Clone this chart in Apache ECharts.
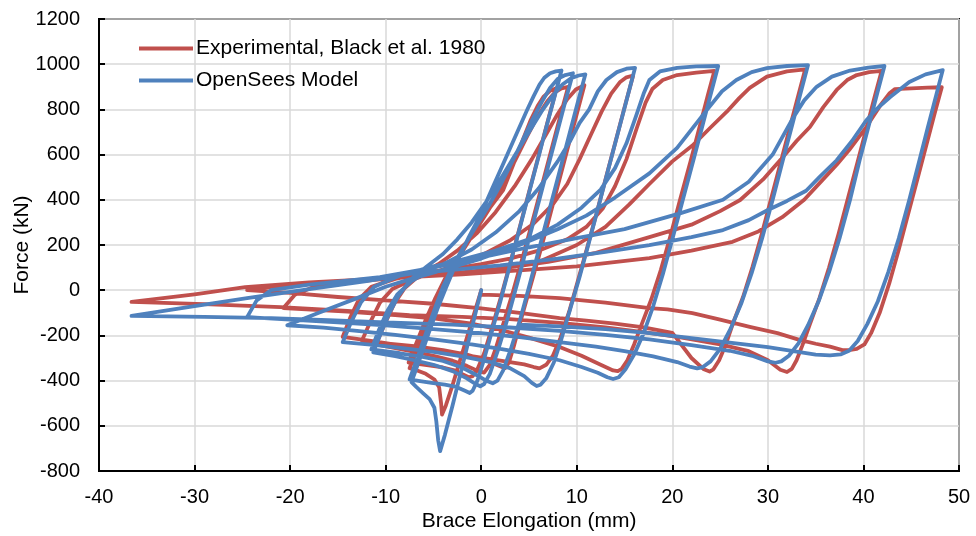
<!DOCTYPE html>
<html>
<head>
<meta charset="utf-8">
<script src="https://cdn.jsdelivr.net/npm/echarts@6/dist/echarts.min.js"></script>
<style>
  html, body { margin: 0; padding: 0; background: #fff; }
  #chart { width: 976px; height: 536px; }
</style>
</head>
<body>
<div id="chart"></div>
<script>
// Brace hysteresis: force (kN) vs. elongation (mm), each path is one half-cycle [x, y].

const seriesNames = ['Experimental, Black et al. 1980', 'OpenSees Model'];
const xTicks = { min: -40, max: 50, step: 10 };
const yTicks = { min: -800, max: 1200, step: 200 };

// ---- Experimental record ----
const expPath1 = [[0,0],[-1,-140],[-2,-280],[-3,-420],[-3.7,-510],[-4.1,-550],[-4.2,-500],[-4.4,-430],[-4.9,-395],[-5.8,-370],[-6.7,-355],[-7.5,-345]];
const expPath2 = [[-7.5,-345],[-6.6,-250],[-5.6,-140],[-4.6,-40],[-3.5,60],[-2,170],[-0.5,270],[1,370],[2.3,443],[3.4,560],[4.4,670],[5.2,755],[5.9,815],[6.5,855],[7.2,882],[7.9,895]];
const expPath3 = [[7.9,895],[7.1,770],[6.1,610],[5.1,450],[4.1,290],[3.1,130],[2.1,-25],[1.1,-170],[0.3,-280],[-0.4,-350],[-0.9,-380],[-1.3,-385],[-1.8,-375],[-2.8,-355],[-4,-342],[-5.5,-333],[-7.6,-320]];
const expPath4 = [[-7.6,-320],[-6.7,-225],[-5.8,-130],[-4.8,-35],[-3.8,50],[-2.5,140],[-1,240],[0.5,340],[2,450],[3.5,570],[4.8,680],[5.9,770],[6.9,835],[7.7,875],[8.4,893],[9.1,900]];
const expPath5 = [[9.1,900],[8.3,775],[7.3,615],[6.3,455],[5.3,295],[4.3,140],[3.3,-10],[2.3,-150],[1.5,-260],[0.9,-330],[0.3,-365],[-0.3,-358],[-1.5,-335],[-3,-312],[-5,-290],[-7.5,-268],[-11,-240]];
const expPath6 = [[-11,-240],[-10.1,-150],[-9.1,-60],[-8,10],[-6.5,65],[-4.5,115],[-2.5,175],[-0.5,250],[1.5,345],[3.5,460],[5.3,580],[6.8,690],[8,780],[9,845],[9.9,888],[10.8,907]];
const expPath7 = [[10.8,907],[10,780],[9,620],[8,460],[7,300],[6,145],[5,-5],[4.1,-140],[3.4,-250],[2.9,-320],[2.5,-345],[1.9,-335],[0.5,-310],[-1.5,-285],[-4,-265],[-7,-248],[-10,-235],[-12.5,-225]];
const expPath8 = [[-12.5,-225],[-11.6,-140],[-10.6,-55],[-9.3,5],[-7,50],[-4.5,85],[-2,120],[0.5,165],[3,220],[5.5,295],[7.5,380],[9,470],[10.3,580],[11.5,690],[12.6,790],[13.6,870],[14.5,920],[15.2,942],[15.9,950]];
const expPath9 = [[15.9,950],[15.1,825],[14.1,665],[13.1,505],[12.1,345],[11.1,190],[10.1,40],[9.2,-95],[8.3,-210],[7.5,-290],[6.8,-330],[6.1,-346],[5.5,-340],[4.5,-328],[3,-318],[1,-305],[-2,-285],[-5,-265],[-8,-248],[-11,-228],[-14.5,-207]];
const expPath10 = [[-14.5,-207],[-13.7,-120],[-12.8,-40],[-11.5,15],[-9,50],[-6,75],[-3,95],[0,115],[3,140],[6,175],[9,225],[11,280],[12.7,360],[14,460],[15.2,580],[16.3,720],[17.2,830],[17.9,890],[19,930],[20.5,952],[22.5,963],[24.4,970]];
const expPath11 = [[24.4,970],[23.7,860],[22.8,715],[21.9,570],[20.8,399],[19.8,240],[18.8,90],[17.8,-40],[16.8,-150],[16,-240],[15.3,-310],[14.7,-348],[14.3,-358],[13.8,-355],[12.5,-330],[10.5,-290],[8.2,-251],[5,-210],[2,-175],[-1,-148],[-5,-125],[-9,-110],[-14,-95],[-20.7,-79]];
const expPath12 = [[-20.7,-79],[-19.5,-20],[-17.5,15],[-14,35],[-10,50],[-6,62],[-2,78],[2,95],[6,125],[10,200],[13,280],[15.5,380],[17.6,470],[20,570],[22.1,640],[24,720],[25.7,790],[27,850],[28.1,895],[29.9,945],[32,968],[33.9,977]];
const expPath13 = [[33.9,977],[33.2,865],[32.3,720],[31.4,575],[30.4,415],[29.4,255],[28.4,105],[27.4,-30],[26.4,-140],[25.6,-240],[24.9,-310],[24.3,-350],[23.9,-360],[23.3,-350],[22,-300],[20,-189],[17,-165],[14,-148],[11,-135],[8.2,-124],[4,-100],[0,-80],[-5,-60],[-10,-45],[-15,-30],[-20,-12],[-24.5,0]];
const expPath14 = [[-24.5,0],[-20,25],[-15,40],[-10,52],[-7.5,60],[-3,75],[2,95],[7,125],[12,165],[17.6,235],[22,290],[25,350],[27.1,399],[29.5,490],[31.6,590],[33,660],[34.4,722],[35.8,810],[37.2,886],[38.3,930],[39.3,952],[40.6,965],[41.9,970]];
const expPath15 = [[41.9,970],[41.2,860],[40.3,715],[39.4,570],[38.4,410],[37.4,250],[36.4,100],[35.4,-35],[34.4,-150],[33.6,-245],[33,-310],[32.5,-348],[32,-362],[31.3,-352],[30,-310],[28,-270],[25,-240],[21,-210],[17.6,-189],[13,-165],[8.2,-145],[3,-128],[-2,-118],[-7.5,-110],[-14,-92],[-21,-75],[-29,-62],[-36.6,-52]];
const expPath16 = [[-36.6,-52],[-30,-18],[-24.7,14],[-18,35],[-12,48],[-7.5,58],[-2,70],[4,88],[10,105],[17.6,142],[22,175],[26.3,214],[29,260],[31.5,323],[33.8,400],[35.7,487],[37.2,555],[38.5,620],[40.3,722],[41.8,820],[42.7,870],[43.3,890],[45,893],[46.7,896],[48.2,898]];
const expPath17 = [[48.2,898],[47.5,790],[46.6,645],[45.7,500],[44.7,340],[43.7,180],[42.7,30],[41.7,-100],[40.8,-190],[40.1,-240],[39.3,-260],[38.5,-265],[37.8,-265],[36.5,-250],[35,-237],[33.3,-220],[31,-190],[28.1,-162],[25,-130],[22.1,-101],[19.5,-85],[17.6,-79],[13,-55],[8.2,-35],[4,-25],[0,-20]];

// ---- OpenSees model ----
const simPath1 = [[0,0],[-1,-170],[-2,-340],[-3,-510],[-3.8,-640],[-4.3,-712],[-4.5,-665],[-4.7,-580],[-4.9,-520],[-5.4,-482],[-6.1,-455],[-6.8,-428],[-7.3,-407]];
const simPath2 = [[-7.3,-407],[-6.4,-300],[-5.5,-190],[-4.6,-85],[-3.7,10],[-2.6,120],[-1.3,235],[0,340],[1.1,445],[2.2,550],[3.3,655],[4.3,750],[4.8,797],[5.5,860],[6.1,910],[6.6,940],[7.2,960],[7.8,968],[8.4,972]];
const simPath3 = [[8.4,972],[7.7,860],[6.9,735],[6,590],[5,430],[4,270],[3,110],[2,-50],[1,-200],[0.2,-320],[-0.4,-400],[-0.9,-445],[-1.2,-455],[-1.7,-445],[-2.6,-428],[-3.8,-418],[-5.2,-410],[-6.4,-402],[-7.5,-395]];
const simPath4 = [[-7.5,-395],[-6.6,-290],[-5.7,-180],[-4.8,-75],[-4,15],[-3,105],[-1.8,195],[-0.5,285],[0.8,375],[2,465],[3.2,565],[4.3,660],[5.3,750],[6.3,830],[7.2,895],[8,935],[8.8,952],[9.6,960]];
const simPath5 = [[9.6,960],[8.8,835],[7.8,675],[6.8,515],[5.8,355],[4.8,195],[3.8,35],[2.8,-120],[1.8,-260],[0.9,-370],[0.3,-415],[-0.1,-425],[-0.6,-415],[-1.5,-390],[-3,-358],[-5,-330],[-7,-310],[-9,-292],[-11.3,-275]];
const simPath6 = [[-11.3,-275],[-10.5,-190],[-9.6,-100],[-8.6,-20],[-7.3,50],[-5.7,105],[-4,160],[-2.5,225],[-1,300],[0.5,390],[2,490],[3.5,595],[5,700],[6.3,790],[7.5,862],[8.5,910],[9.4,938],[10.2,950],[10.9,955]];
const simPath7 = [[10.9,955],[10.1,830],[9.1,670],[8.1,510],[7.1,350],[6.1,190],[5.1,30],[4.1,-125],[3.1,-260],[2.3,-355],[1.7,-400],[1.2,-412],[0.6,-402],[-0.5,-375],[-2,-342],[-4,-313],[-6,-296],[-8.5,-279],[-11.5,-262]];
const simPath8 = [[-11.5,-262],[-10.7,-175],[-9.8,-90],[-8.8,-20],[-7.3,40],[-5.5,85],[-3.5,125],[-1,180],[1.5,255],[4,350],[6,450],[8,570],[9.3,660],[10.3,740],[11.3,800],[12.2,880],[13.1,930],[14.2,965],[15.2,980],[16.1,984]];
const simPath9 = [[16.1,984],[15.3,855],[14.3,695],[13.3,535],[12.3,375],[11.3,215],[10.3,60],[9.3,-85],[8.4,-215],[7.6,-320],[6.8,-390],[6.2,-418],[5.8,-424],[5.3,-410],[4.5,-380],[3,-345],[1,-318],[-2,-293],[-5,-273],[-8,-257],[-11,-243],[-14.5,-230]];
const simPath10 = [[-14.5,-230],[-13.6,-140],[-12.6,-55],[-11.2,15],[-8.5,65],[-5.5,100],[-2,135],[1.5,175],[5,225],[8,290],[10.5,365],[12.5,445],[14,540],[15.2,650],[16.2,770],[17,870],[17.6,930],[18.7,968],[20.5,984],[22.5,990],[24.8,992]];
const simPath11 = [[24.8,992],[24.1,880],[23.2,735],[22.3,590],[21.1,400],[20,225],[19,70],[18,-70],[17,-190],[16,-285],[15.1,-350],[14.4,-385],[13.8,-393],[13.2,-385],[12.2,-365],[10.5,-340],[8.2,-310],[5,-282],[2,-260],[-1,-240],[-5,-218],[-9,-198],[-13,-180],[-16.5,-166],[-20.3,-155]];
const simPath12 = [[-20.3,-155],[-17,-100],[-13,-35],[-10,15],[-7.5,48],[-4,90],[0,140],[4,200],[8,270],[11,330],[14,410],[17.6,517],[20.5,630],[23.6,797],[25.2,880],[26.7,930],[28.3,965],[29.9,983],[32,992],[34.2,996]];
const simPath13 = [[34.2,996],[33.5,885],[32.6,740],[31.6,580],[30.5,400],[29.4,230],[28.3,75],[27.2,-60],[26.1,-170],[25,-260],[24,-315],[23.2,-340],[22.6,-346],[21.8,-338],[20.5,-318],[18,-293],[15,-270],[12,-250],[8.2,-230],[4,-208],[0,-190],[-5,-172],[-10,-156],[-15,-142],[-20,-130],[-24.5,-119]];
const simPath14 = [[-24.5,-119],[-23.5,-45],[-22,0],[-18,25],[-14,42],[-10.6,58],[-5,100],[0,145],[5,190],[10,230],[15,270],[20.8,340],[25.3,400],[28,480],[30.5,600],[32.6,760],[33.8,840],[35.1,900],[36.7,945],[38.6,972],[40.5,985],[42.2,992]];
const simPath15 = [[42.2,992],[41.5,880],[40.6,735],[39.6,575],[38.6,400],[37.5,230],[36.4,80],[35.3,-50],[34.2,-155],[33.2,-235],[32.2,-290],[31.4,-315],[30.8,-321],[30,-315],[28.5,-292],[26,-268],[22,-243],[17.6,-218],[13,-198],[8.2,-180],[3,-165],[-3,-152],[-10,-142],[-16,-133],[-22,-124],[-29,-118],[-36.6,-114]];
const simPath16 = [[-36.6,-114],[-30,-70],[-24.5,-35],[-18,5],[-12,40],[-7.5,72],[-3,90],[2,110],[8,140],[13,170],[17.6,199],[22,235],[25.3,266],[28,310],[30,355],[32,395],[34,440],[35.5,505],[37.2,575],[38.8,660],[40.3,752],[41.6,810],[42.8,855],[44.8,921],[46.5,955],[48.3,974]];
const simPath17 = [[48.3,974],[47.6,860],[46.7,715],[45.8,565],[44.8,400],[43.7,230],[42.6,80],[41.5,-50],[40.4,-150],[39.4,-225],[38.5,-268],[37.6,-284],[36.5,-288],[35,-285],[33,-272],[30,-252],[26,-232],[22,-212],[17.6,-190],[13,-172],[8.2,-160],[4,-152]];

const expPaths = [expPath1, expPath2, expPath3, expPath4, expPath5, expPath6, expPath7, expPath8, expPath9,
                  expPath10, expPath11, expPath12, expPath13, expPath14, expPath15, expPath16, expPath17];
const simPaths = [simPath1, simPath2, simPath3, simPath4, simPath5, simPath6, simPath7, simPath8, simPath9,
                  simPath10, simPath11, simPath12, simPath13, simPath14, simPath15, simPath16, simPath17];

// Join the half-cycles into one continuous record (shared end points kept once).
function joinPaths(paths) {
  const out = [];
  paths.forEach((p, i) => { (i === 0 ? p : p.slice(1)).forEach(pt => out.push(pt)); });
  return out;
}

const FONT = '"Liberation Sans", Arial, sans-serif';
const plain = v => String(v);
const chart = echarts.init(document.getElementById('chart'), null, { renderer: 'canvas' });

chart.setOption({
  animation: false,
  backgroundColor: '#ffffff',
  grid: {
    left: 99, right: 17, top: 19, bottom: 65,
    outerBoundsMode: 'none', containLabel: false,
    show: true, borderColor: '#000', borderWidth: 2
  },
  legend: {
    left: 134, top: 33, orient: 'vertical',
    icon: 'rect', itemWidth: 54, itemHeight: 4, itemGap: 11,
    textStyle: { fontFamily: FONT, fontSize: 21, color: '#000', padding: [0, 0, 0, -2] },
    data: seriesNames
  },
  xAxis: {
    type: 'value', min: xTicks.min, max: xTicks.max, interval: xTicks.step,
    name: 'Brace Elongation (mm)', nameLocation: 'middle', nameGap: 40, nameMoveOverlap: false,
    nameTextStyle: { fontFamily: FONT, fontSize: 21, color: '#000' },
    axisLine: { onZero: false, lineStyle: { color: '#000', width: 2 } },
    axisTick: { show: true, inside: true, length: 6, lineStyle: { color: '#000', width: 2 } },
    axisLabel: { fontFamily: FONT, fontSize: 20, color: '#000', margin: 16, formatter: plain },
    splitLine: { show: true, lineStyle: { color: '#d9d9d9', width: 1.5 } }
  },
  yAxis: {
    type: 'value', min: yTicks.min, max: yTicks.max, interval: yTicks.step,
    name: 'Force (kN)', nameLocation: 'middle', nameGap: 66, nameMoveOverlap: false,
    nameTextStyle: { fontFamily: FONT, fontSize: 21, color: '#000' },
    axisLine: { onZero: false, lineStyle: { color: '#000', width: 2 } },
    axisTick: { show: true, inside: true, length: 6, lineStyle: { color: '#000', width: 2 } },
    axisLabel: { fontFamily: FONT, fontSize: 20, color: '#000', margin: 19, formatter: plain },
    splitLine: { show: true, lineStyle: { color: '#d9d9d9', width: 1.5 } }
  },
  series: [
    {
      name: seriesNames[0], type: 'line', data: joinPaths(expPaths),
      symbol: 'none', showSymbol: false, smooth: false, z: 2,
      lineStyle: { color: '#C0504D', width: 3.8, cap: 'round', join: 'round' },
      itemStyle: { color: '#C0504D' }
    },
    {
      name: seriesNames[1], type: 'line', data: joinPaths(simPaths),
      symbol: 'none', showSymbol: false, smooth: false, z: 3,
      lineStyle: { color: '#4F81BD', width: 3.8, cap: 'round', join: 'round' },
      itemStyle: { color: '#4F81BD' }
    }
  ]
});
</script>
</body>
</html>
